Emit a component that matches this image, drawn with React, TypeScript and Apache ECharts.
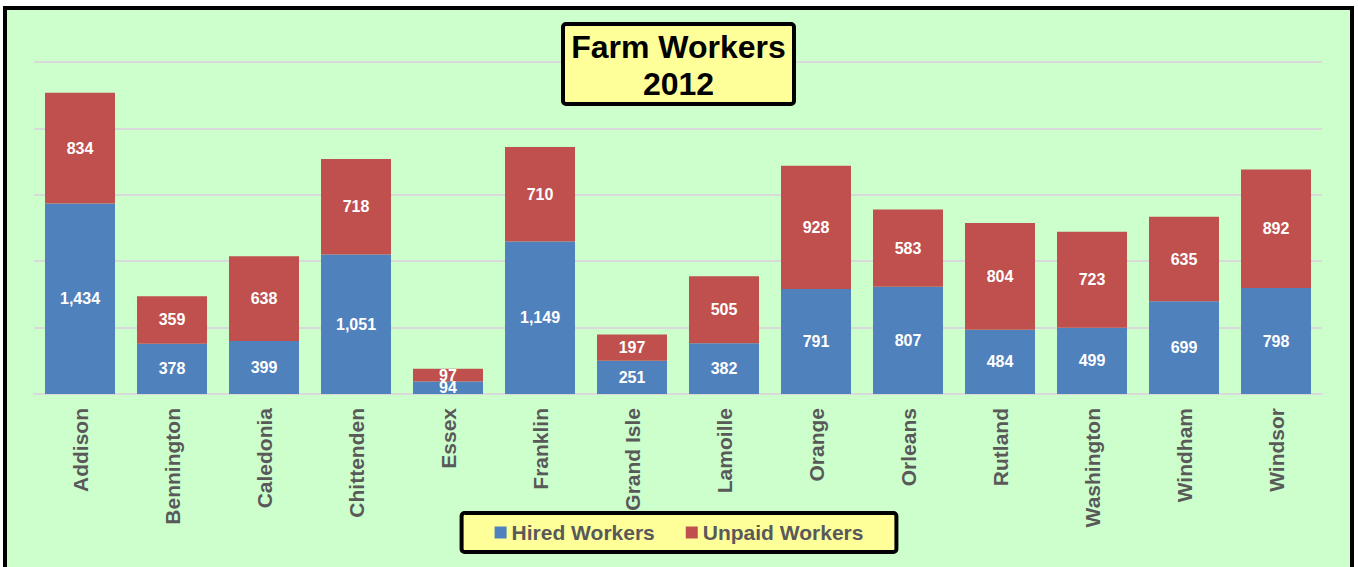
import React, { useEffect, useRef } from "react";
import * as echarts from "echarts";

const counties = [
  "Addison", "Bennington", "Caledonia", "Chittenden", "Essex", "Franklin", "Grand Isle",
  "Lamoille", "Orange", "Orleans", "Rutland", "Washington", "Windham", "Windsor",
];
const hiredWorkers = [1434, 378, 399, 1051, 94, 1149, 251, 382, 791, 807, 484, 499, 699, 798];
const unpaidWorkers = [834, 359, 638, 718, 97, 710, 197, 505, 928, 583, 804, 723, 635, 892];
const seriesNames = ["Hired Workers", "Unpaid Workers"];
const titleText = "Farm Workers\n2012";

const FONT = "'Liberation Sans', Arial, sans-serif";

export default function App() {
  const ref = useRef<HTMLDivElement>(null);
  useEffect(() => {
    if (!ref.current) return;
    const chart = echarts.init(ref.current, null, { renderer: "svg" });
    const fmt = (p: any) => Number(p.value).toLocaleString("en-US");
    const labelStyle = {
      show: true,
      position: "inside",
      color: "#ffffff",
      fontWeight: "bold",
      fontSize: 16,
      fontFamily: FONT,
      formatter: fmt,
    };
    chart.setOption({
      animation: false,
      backgroundColor: "#ffffff",
      graphic: [
        {
          type: "rect",
          z: -10,
          silent: true,
          shape: { x: 5, y: 8, width: 1347, height: 600 },
          style: { fill: "#CCFFCC", stroke: "#000000", lineWidth: 4 },
        },
        {
          type: "rect",
          z: 100,
          silent: true,
          shape: { x: 563, y: 24, width: 231, height: 80, r: 3 },
          style: { fill: "#FFFF99", stroke: "#000000", lineWidth: 4 },
        },
        {
          type: "text",
          z: 101,
          silent: true,
          x: 678.5,
          y: 65,
          style: {
            text: titleText,
            align: "center",
            verticalAlign: "middle",
            fontFamily: FONT,
            fontWeight: "bold",
            fontSize: 32,
            lineHeight: 37,
            fill: "#000000",
          },
        },
      ],
      legend: {
        data: seriesNames,
        left: "center",
        top: 513,
        padding: [9, 33],
        itemGap: 31,
        itemWidth: 12,
        itemHeight: 12,
        icon: "rect",
        backgroundColor: "#FFFF99",
        borderColor: "#000000",
        borderWidth: 4,
        borderRadius: 3,
        textStyle: {
          fontFamily: FONT,
          fontWeight: "bold",
          fontSize: 21,
          color: "#595959",
        },
      },
      grid: { left: 34, right: 36, top: 62, bottom: 173, containLabel: false },
      xAxis: {
        type: "category",
        data: counties,
        axisLine: { lineStyle: { color: "#D9D9D9", width: 2 } },
        axisTick: { show: false },
        axisLabel: {
          interval: 0,
          rotate: 90,
          margin: 14,
          fontFamily: FONT,
          fontWeight: "bold",
          fontSize: 21,
          color: "#595959",
        },
      },
      yAxis: {
        type: "value",
        min: 0,
        max: 2500,
        interval: 500,
        axisLabel: { show: false },
        axisLine: { show: false },
        axisTick: { show: false },
        splitLine: { lineStyle: { color: "#D9D9D9", width: 2 } },
      },
      series: [
        {
          name: seriesNames[0],
          type: "bar",
          stack: "total",
          barWidth: 70,
          data: hiredWorkers,
          itemStyle: { color: "#4F81BD" },
          label: labelStyle,
        },
        {
          name: seriesNames[1],
          type: "bar",
          stack: "total",
          barWidth: 70,
          data: unpaidWorkers,
          itemStyle: { color: "#C0504D" },
          label: labelStyle,
        },
      ],
    });
    return () => chart.dispose();
  }, []);
  return (
    <div
      ref={ref}
      style={{ position: "fixed", left: 0, top: 0, width: 1358, height: 567 }}
    />
  );
}
